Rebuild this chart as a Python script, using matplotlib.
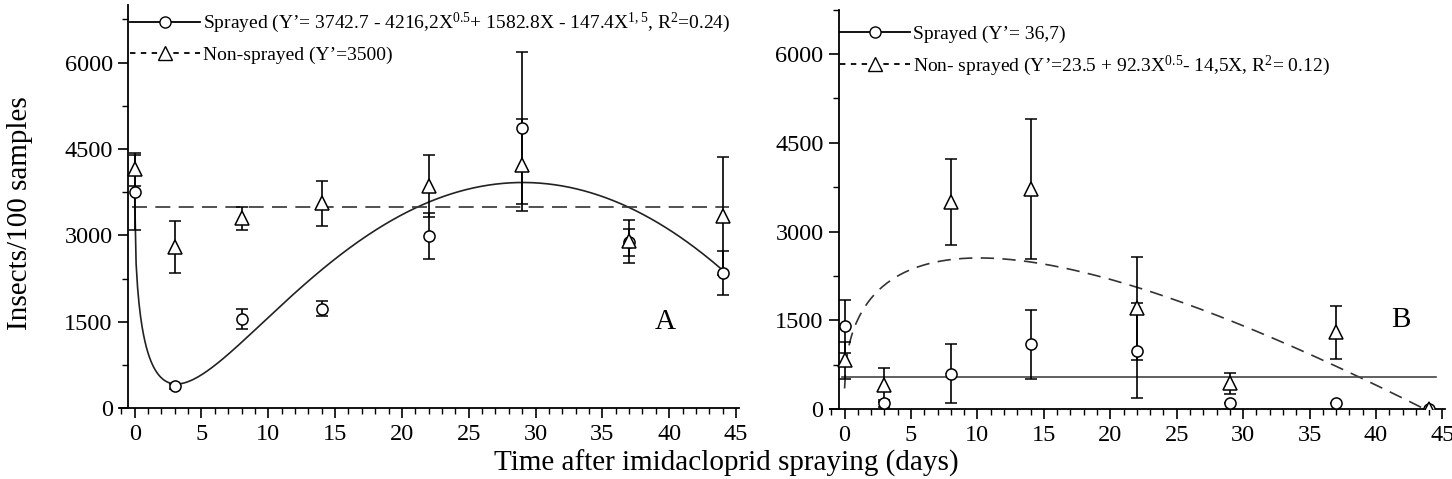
import numpy as np
import matplotlib.pyplot as plt
from matplotlib.lines import Line2D
from matplotlib.ticker import MultipleLocator

plt.rcParams['font.family'] = ['Liberation Serif', 'DejaVu Serif']
plt.rcParams['mathtext.fontset'] = 'custom'
plt.rcParams['mathtext.rm'] = 'Liberation Serif'
plt.rcParams['mathtext.it'] = 'Liberation Serif:italic'

# sampling days after spraying
days = [0, 3, 8, 14, 22, 29, 37, 44]

# panel A (means and error bars)
a_spr = [3750, 380, 1550, 1730, 2990, 4870, 2880, 2350]
a_spr_err = [650, 40, 170, 130, 400, 1320, 230, 380]
a_non = [4150, 2800, 3300, 3560, 3860, 4220, 2900, 3340]
a_non_err = [290, 445, 200, 390, 540, 800, 370, 1020]
# fitted model: coefficients of X^0, X^0.5, X^1, X^1.5
a_spr_coef = [3742.7, -4216.2, 1582.8, -147.4]
a_non_mean = 3500

# panel B
b_spr = [1400, 100, 600, 1100, 990, 100, 100, 0]
b_spr_err = [450, 60, 500, 580, 800, 0, 0, 0]
b_non = [830, 410, 3500, 3720, 1710, 440, 1300, 0]
b_non_err = [310, 290, 720, 1190, 870, 180, 450, 0]
b_spr_mean = 36.7
b_non_coef = [23.5, 92.3, -14.5]
b_scale = 15  # model units -> insects/100 samples

a_labels = ["Sprayed (Y\u2019= 3742.7 - 4216,2X$^{0.5}$+ 1582.8X - 147.4X$^{1,5}$, R$^{2}$=0.24)",
            "Non-sprayed (Y\u2019=3500)"]
b_labels = ["Sprayed (Y\u2019= 36,7)",
            "Non- sprayed (Y\u2019=23.5 + 92.3X$^{0.5}$- 14,5X, R$^{2}$= 0.12)"]


def model(coef, x):
    return sum(c * x ** (i / 2) for i, c in enumerate(coef))


def style(ax, top, spine_x):
    ax.set_xlim(-1.1, 45.2)
    ax.set_ylim(0, top)
    ax.spines[['top', 'right']].set_visible(False)
    ax.spines['left'].set_position(('data', spine_x))
    for s in ax.spines.values():
        s.set_linewidth(1.3)
    ax.xaxis.set_major_locator(MultipleLocator(5))
    ax.xaxis.set_minor_locator(MultipleLocator(1))
    ax.yaxis.set_major_locator(MultipleLocator(1500))
    ax.yaxis.set_minor_locator(MultipleLocator(750))
    ax.tick_params(which='major', length=7, width=1.2, labelsize=17.5, pad=4)
    ax.tick_params(which='minor', length=4, width=1.0)


def points(ax, y, err, marker, ms):
    ax.errorbar(days, y, yerr=err, fmt=marker, ms=ms, mfc='white', mec='black',
                mew=1.1, ecolor='black', elinewidth=1.2, capsize=4, capthick=1.2,
                zorder=3)


fig = plt.figure(figsize=(14.52, 4.79), dpi=100)
axA = fig.add_axes([0.0826, 0.1476, 0.4261, 0.8419])
axB = fig.add_axes([0.5716, 0.1455, 0.4236, 0.8345])

xs = np.linspace(0, 44, 400)

# panel A
axA.plot(xs, model(a_spr_coef, xs), color='#222222', lw=1.2)
axA.axhline(a_non_mean, xmin=0.02, xmax=0.985, color='#333333', lw=1.2, dashes=(9, 5))
points(axA, a_spr, a_spr_err, 'o', 8)
points(axA, a_non, a_non_err, '^', 10)
style(axA, 7000, -0.5)
axA.text(39.7, 1490, 'A', fontsize=21, ha='center', va='center')

# panel B
axB.plot(xs, model(b_non_coef, xs) * b_scale, color='#333333', lw=1.2, dashes=(8, 5))
axB.axhline(b_spr_mean * b_scale, xmin=0.02, xmax=0.985, color='#444444', lw=1.2)
points(axB, b_spr, b_spr_err, 'o', 8)
points(axB, b_non, b_non_err, '^', 10)
style(axB, 6750, -0.43)
axB.text(41.9, 1510, 'B', fontsize=21, ha='center', va='center')

handles = [Line2D([], [], color='black', lw=1.3, marker='o', ms=8, mfc='white', mec='black'),
           Line2D([], [], color='black', lw=1.3, marker='^', ms=10, mfc='white', mec='black',
                  dashes=(3, 3))]
for ax, labels, ytop in ((axA, a_labels, 0.985), (axB, b_labels, 0.96)):
    ax.legend(handles, labels, loc='upper left', bbox_to_anchor=(0.016, ytop),
              frameon=False, fontsize=14, borderpad=0, borderaxespad=0,
              handlelength=3.6, handletextpad=0.15, labelspacing=0.55)

fig.text(0.014, 0.555, 'Insects/100 samples', rotation=90, fontsize=21,
         ha='center', va='center')
fig.text(0.5, 0.004, 'Time after imidacloprid spraying (days)', fontsize=21,
         ha='center', va='bottom')

fig.savefig('out.png', dpi=100)
